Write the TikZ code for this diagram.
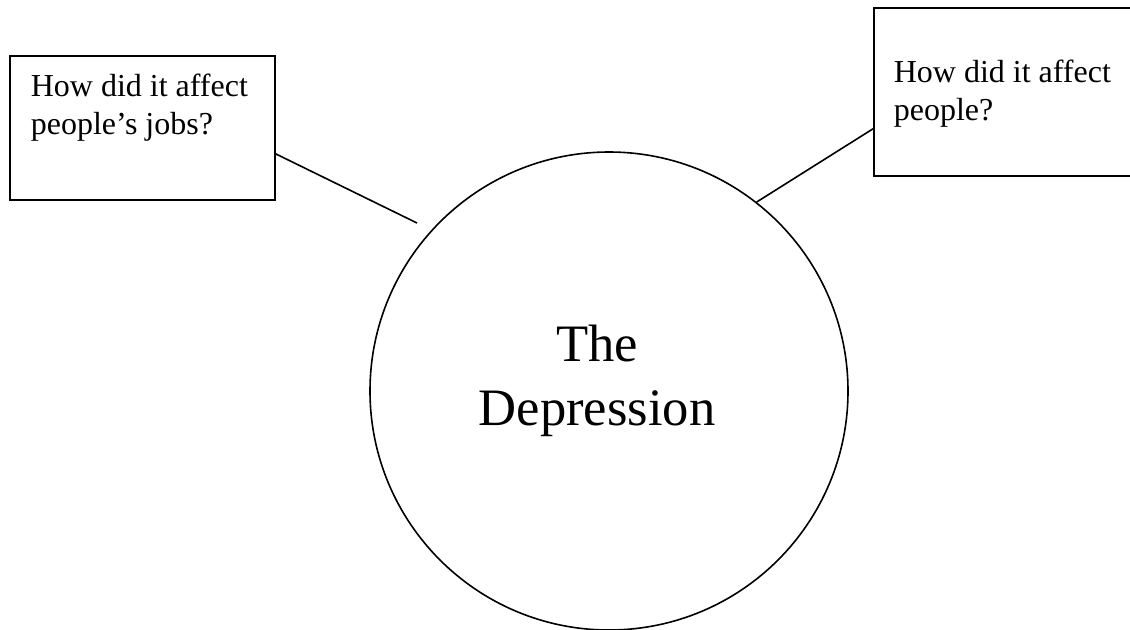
\documentclass[tikz,border=0pt]{standalone}
\usepackage{fontspec}
\setmainfont{Liberation Serif}
\usepackage{tikz}

\begin{document}
\begin{tikzpicture}[x=0.5pt, y=-0.5pt, line width=0.8pt,
        qbox/.style={draw, rectangle, inner sep=0pt, anchor=north west},
        qtext/.style={align=left, inner sep=0pt, anchor=base west,
                font=\fontsize{16}{19}\selectfont}]
        \useasboundingbox (0,0) rectangle (1130,629);
        \node[qbox, minimum width=132.5pt, minimum height=72pt] (jobs) at (9,55) {};
        \node[qtext] (jobstext) at (30,134) {How did it affect\\people’s jobs?};
        \node[qbox, minimum width=135pt, minimum height=84pt] (people) at (873,7) {};
        \node[qtext] (peopletext) at (893,120) {How did it affect\\people?};
        \node[draw, circle, minimum size=239pt, inner sep=0pt] (dep) at (609,391) {};
        \node[align=center, inner sep=0pt, anchor=base,
                font=\fontsize{26.3}{32}\selectfont] (deptext) at (597,425) {The\\Depression};
        \coordinate (jobsend) at (417,223);
        \draw ([yshift=-13pt]jobs.east) -- (jobsend);
        \draw (dep.52.75) -- ([yshift=-18.5pt]people.west);
\end{tikzpicture}
\end{document}
